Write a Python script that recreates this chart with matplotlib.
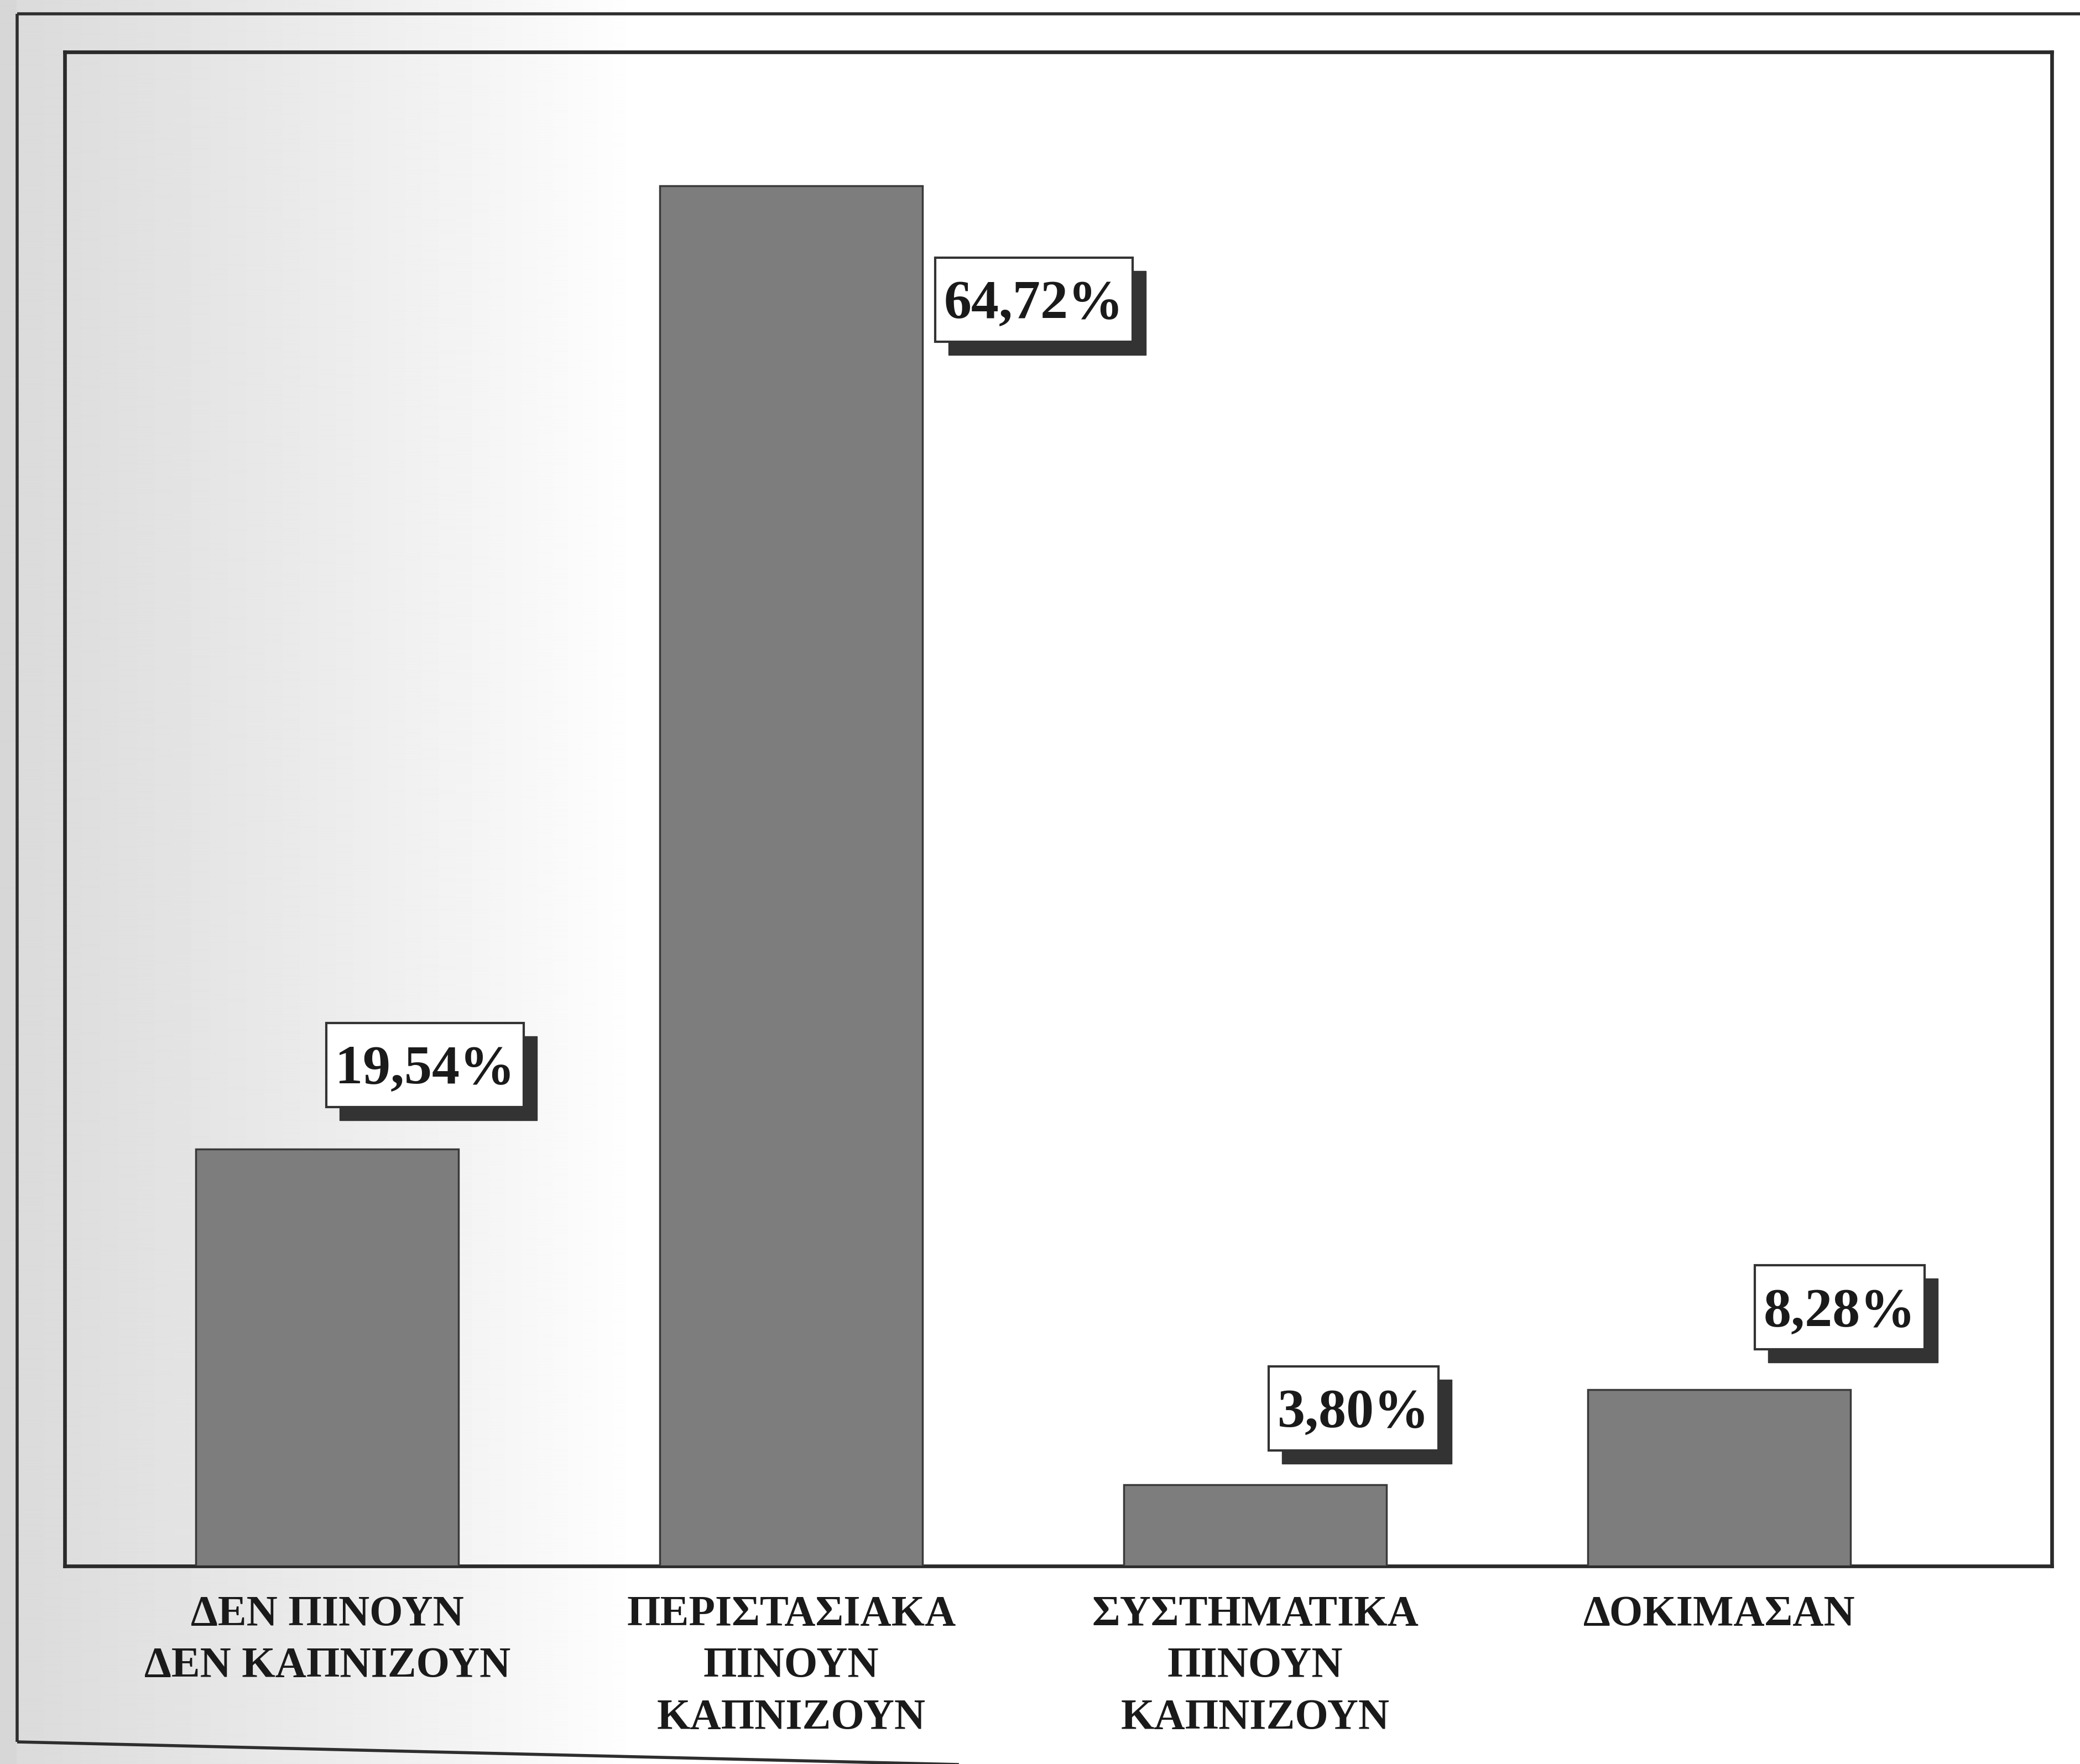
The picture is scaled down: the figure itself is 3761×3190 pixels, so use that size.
import numpy as np
import matplotlib
matplotlib.use("Agg")
import matplotlib.pyplot as plt
from matplotlib.lines import Line2D
from matplotlib.patches import Rectangle
from matplotlib.transforms import IdentityTransform

# Survey groups (alcohol / smoking habits) and their shares in percent
categories = [
    "ΔΕΝ ΠΙΝΟΥΝ\nΔΕΝ ΚΑΠΝΙΖΟΥΝ",
    "ΠΕΡΙΣΤΑΣΙΑΚΑ\nΠΙΝΟΥΝ\nΚΑΠΝΙΖΟΥΝ",
    "ΣΥΣΤΗΜΑΤΙΚΑ\nΠΙΝΟΥΝ\nΚΑΠΝΙΖΟΥΝ",
    "ΔΟΚΙΜΑΣΑΝ",
]
shares = [19.54, 64.72, 3.80, 8.28]
share_labels = ["19,54%", "64,72%", "3,80%", "8,28%"]

W, H, DPI = 3762, 3190, 100
fig = plt.figure(figsize=(W / DPI, H / DPI), dpi=DPI)
fig.patch.set_facecolor("white")

# Soft grey page shading on the left edge
bg = fig.add_axes([0, 0, 1, 1], zorder=-10)
xs = np.arange(W)
shade = np.clip((1150 - xs) / 1100.0, 0, 1) ** 0.9
row = 1.0 - 0.14 * shade
row[xs < 30] = 0.84
img = np.tile(row, (60, 1))
bg.imshow(img, cmap="gray", vmin=0, vmax=1, aspect="auto",
          extent=[0, W, H, 0], interpolation="bilinear")
bg.set_xlim(0, W)
bg.set_ylim(H, 0)
bg.axis("off")

# Outer page frame
def px_line(x0, y0, x1, y1, lw=4.0, color="#2e2e2e"):
    fig.add_artist(Line2D([x0 / W, x1 / W], [1 - y0 / H, 1 - y1 / H],
                          transform=fig.transFigure, lw=lw, color=color,
                          solid_capstyle="butt"))

px_line(31, 25, W, 25)
px_line(31, 25, 31, 3150)
px_line(31, 3150, 1900, 3195)

# Plot area
left, right, top, bottom = 117, 3710, 94, 2832
ax = fig.add_axes([left / W, 1 - bottom / H, (right - left) / W, (bottom - top) / H])
ax.set_facecolor("none")

x = np.arange(len(categories))
ax.bar(x, shares, width=0.566, color="#7d7d7d", edgecolor="#3a3a3a",
       linewidth=2.5, zorder=3)

ax.set_xlim(-0.566, 3.717)
ax.set_ylim(0, 71)
ax.set_yticks([])
ax.set_xticks(x)
ax.set_xticklabels(categories, fontsize=56, fontweight="bold",
                   family="Liberation Serif", linespacing=1.42,
                   color="#1a1a1a", va="top")
ax.tick_params(axis="x", length=0, pad=38)
for s in ax.spines.values():
    s.set_linewidth(4.8)
    s.set_color("#2a2a2a")

# Value labels: box centre offset from the top of each bar (points)
offsets = [(127, 110), (316, -148), (128, 100), (157, 107)]
font = dict(fontsize=72, fontweight="bold", family="Liberation Serif")
digit_half = 24  # half the digit height, points
texts = []
for xi, v, lab, (dx, dy) in zip(x, shares, share_labels, offsets):
    t = ax.annotate(lab, xy=(xi, v), xytext=(dx, dy - digit_half),
                    textcoords="offset points", ha="center",
                    va="baseline", color="#1a1a1a", zorder=8,
                    annotation_clip=False, **font)
    texts.append(t)

# Framed boxes with a drop shadow behind each value label
fig.canvas.draw()
renderer = fig.canvas.get_renderer()
box_h, pad_x, shadow = 152, 16, 24
pt = DPI / 72.0
for t, xi, v, (dx, dy) in zip(texts, x, shares, offsets):
    ext = t.get_window_extent(renderer)
    ax_x, ax_y = ax.transData.transform((xi, v))
    cx, cy = ax_x + dx * pt, ax_y + dy * pt
    bw = ext.width + 2 * pad_x
    x0, y0 = cx - bw / 2, cy - box_h / 2
    sh = Rectangle((x0 + shadow, y0 - shadow), bw, box_h,
                   transform=IdentityTransform(), fc="#333333",
                   ec="#333333", lw=1, zorder=6, clip_on=False)
    bx = Rectangle((x0, y0), bw, box_h, transform=IdentityTransform(),
                   fc="white", ec="#333333", lw=3.0, zorder=7, clip_on=False)
    ax.add_artist(sh)
    ax.add_artist(bx)

fig.savefig("out.png", dpi=DPI)
